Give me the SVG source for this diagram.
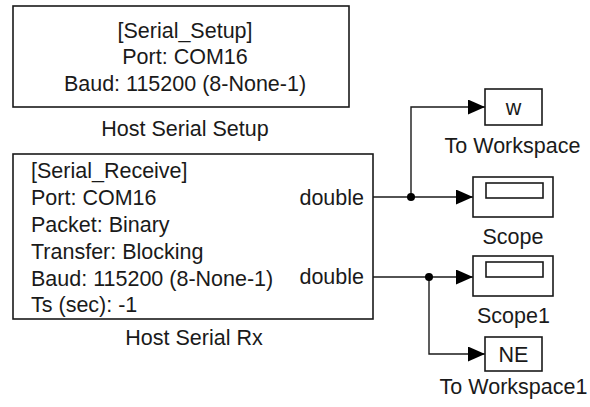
<svg xmlns="http://www.w3.org/2000/svg" width="590" height="407" viewBox="0 0 590 407">
<defs>
<style>
.blk{fill:#fff;stroke:#1a1a1a;stroke-width:1.6}
.t{font-family:"Liberation Sans",Arial,sans-serif;font-size:21.5px;fill:#1a1a1a}
.c{text-anchor:middle}
.r{text-anchor:end}
.ln{fill:none;stroke:#1a1a1a;stroke-width:1.4}
</style>
<marker id="ah" markerUnits="userSpaceOnUse" markerWidth="18" markerHeight="16" refX="17" refY="7.5" orient="auto">
<path d="M0,0 L17,7.5 L0,15 z" fill="#000"/>
</marker>
</defs>
<rect width="590" height="407" fill="#fff"/>
<g id="connectors">
<path class="ln" d="M373,197 H473" marker-end="url(#ah)"/>
<path class="ln" d="M411,197 V107 H485" marker-end="url(#ah)"/>
<path class="ln" d="M373,277 H473" marker-end="url(#ah)"/>
<path class="ln" d="M429,277 V354 H485" marker-end="url(#ah)"/>
<circle cx="411" cy="197" r="4" fill="#000"/>
<circle cx="429" cy="277" r="4" fill="#000"/>
</g>
<g id="host-serial-setup">
<rect class="blk" x="13" y="6" width="336" height="101"/>
<text class="t c" x="185" y="38">[Serial_Setup]</text>
<text class="t c" x="185" y="64">Port: COM16</text>
<text class="t c" x="185" y="91">Baud: 115200 (8-None-1)</text>
<text class="t c" x="185" y="136">Host Serial Setup</text>
</g>
<g id="host-serial-rx">
<rect class="blk" x="13" y="154" width="360" height="165"/>
<text class="t" x="31" y="178">[Serial_Receive]</text>
<text class="t" x="31" y="205">Port: COM16</text>
<text class="t" x="31" y="232">Packet: Binary</text>
<text class="t" x="31" y="259">Transfer: Blocking</text>
<text class="t" x="31" y="286">Baud: 115200 (8-None-1)</text>
<text class="t" x="31" y="312">Ts (sec): -1</text>
<text class="t r" x="364" y="205">double</text>
<text class="t r" x="364" y="284">double</text>
<text class="t c" x="194" y="345">Host Serial Rx</text>
</g>
<g id="to-workspace">
<rect class="blk" x="485" y="89" width="57" height="36"/>
<text class="t c" x="513.5" y="115">w</text>
<text class="t c" x="512.5" y="153">To Workspace</text>
</g>
<g id="scope">
<rect class="blk" x="473" y="177" width="80" height="40"/>
<rect class="blk" x="486" y="183" width="57" height="15"/>
<text class="t c" x="513" y="244">Scope</text>
</g>
<g id="scope1">
<rect class="blk" x="473" y="256" width="80" height="40"/>
<rect class="blk" x="486" y="262" width="57" height="15"/>
<text class="t c" x="513.5" y="323">Scope1</text>
</g>
<g id="to-workspace1">
<rect class="blk" x="485" y="337" width="57" height="34"/>
<text class="t c" x="513.5" y="362">NE</text>
<text class="t c" x="513.5" y="394">To Workspace1</text>
</g>
</svg>
